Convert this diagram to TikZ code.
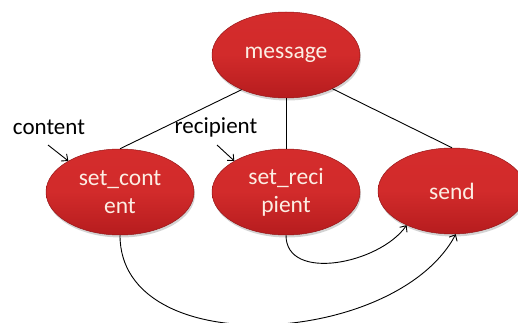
\documentclass[tikz,border=0pt]{standalone}
\usepackage{fontspec}
\setmainfont{Carlito}
\usetikzlibrary{shapes.geometric,arrows.meta,shadows}
\definecolor{redtop}{RGB}{212,44,44}
\definecolor{redbot}{RGB}{182,28,30}
\definecolor{rededge}{RGB}{150,22,24}
\definecolor{cream}{RGB}{252,238,228}
\tikzset{
  state/.style={ellipse, minimum width=148pt, minimum height=86pt, inner sep=0pt,
    top color=redtop, bottom color=redbot, middle color=redtop!92!redbot, draw=rededge, line width=0.5pt,
    text=cream, align=center, font=\fontsize{23.5}{28}\selectfont,
    drop shadow={shadow xshift=1pt, shadow yshift=-2.5pt, opacity=0.35}},
  lbl/.style={font=\fontsize{23}{28}\selectfont, inner sep=0pt},
  conn/.style={line width=0.9pt, black},
  arr/.style={conn, -{Straight Barb[length=5pt,width=9pt]}}
}
\begin{document}
\begin{tikzpicture}[x=1pt,y=1pt]
\useasboundingbox (0,0) rectangle (518,-323);
\node[state] (msg) at (286,-55) {message};
\node[state] (sc) at (120,-192) {set\_cont\\ent};
\node[state] (sr) at (286,-192) {set\_reci\\pient};
\node[state] (send) at (452,-191) {send};
\node[lbl] (lc) at (49,-127) {content};
\node[lbl] (lr) at (216,-127) {recipient};
\coordinate (ca) at (48,-145);
\coordinate (ra) at (217,-145);
\draw[conn] (msg.-142) -- (sc.north);
\draw[conn] (msg.south) -- (sr.north);
\draw[conn] (msg.-36) -- (send.north);
\draw[arr] (ca) -- (sc.149);
\draw[arr] (ra) -- (sr.149);
\draw[arr] (sr.south) to[out=-90,in=-125] (send.-143);
\draw[arr] (sc.south) to[out=-90,in=-118,looseness=0.97] (send.-85);
\end{tikzpicture}
\end{document}
